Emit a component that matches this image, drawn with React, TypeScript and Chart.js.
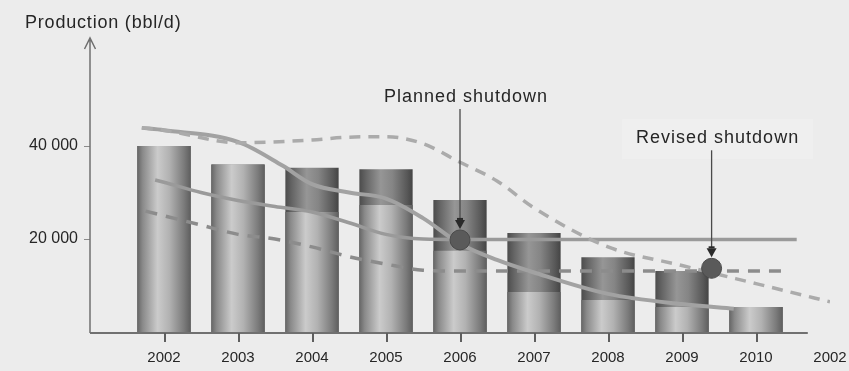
import { useEffect, useRef } from 'react';
import { Chart, registerables } from 'chart.js';

Chart.register(...registerables);

// Year slots along the x axis (slot index = position on the axis)
const YEAR_LABELS = ['2002', '2003', '2004', '2005', '2006', '2007', '2008', '2009', '2010', '2002'];
const Y_TICKS = [20000, 40000];

// Yearly production, bbl/d: full bar height and its lighter lower part
const PRODUCTION_TOTAL = [40000, 36000, 35300, 35000, 28400, 21300, 16100, 13100, 5400];
const PRODUCTION_BASE = [40000, 36000, 25800, 27300, 17500, 8600, 6900, 5400, 5400];

// Profile curves, x in year-slot units, y in bbl/d
const UPPER_SOLID_X = [-0.3, 0, 1, 1.6, 2, 2.5, 3, 3.5, 4, 4.5, 5, 6, 7, 7.7];
const UPPER_SOLID_Y = [43900, 43400, 40900, 35800, 31800, 30000, 28700, 24500, 19000, 15500, 12800, 8200, 6000, 5000];

const UPPER_DASHED_X = [-0.3, 0, 1, 2, 2.5, 3, 3.5, 4, 4.5, 5, 6, 7, 8, 9];
const UPPER_DASHED_Y = [43900, 43400, 40700, 41300, 41900, 42000, 40500, 36500, 32500, 26700, 18300, 14300, 10400, 6500];

const LOWER_SOLID_X = [-0.12, 0, 0.5, 1, 1.5, 2, 2.5, 3, 3.5, 4, 8.55];
const LOWER_SOLID_Y = [32700, 32200, 30000, 28300, 27000, 25800, 23500, 21000, 20000, 19900, 19900];

const LOWER_DASHED_X = [-0.25, 0, 0.5, 1, 1.5, 2, 2.5, 3, 3.5, 4, 8.4];
const LOWER_DASHED_Y = [26000, 25000, 23000, 21000, 20000, 18300, 16200, 14600, 13300, 13100, 13100];

// Shutdown markers
const SHUTDOWN_LABELS = ['Planned shutdown', 'Revised shutdown'];
const SHUTDOWN_X = [4, 7.4];
const SHUTDOWN_Y = [19800, 13700];

// Callout layout: text baseline distance above the marker, and sideways shift
const CALLOUT_RISE = [138, 125];
const CALLOUT_SHIFT = 6;

const BAR_FRACTION = 0.72;
const FONT = '"Liberation Sans", Arial, Helvetica, sans-serif';
const TEXT_COLOR = '#262626';
const AXIS_COLOR = '#707070';

const LIGHT_CYLINDER: [number, string][] = [
  [0, '#666666'],
  [0.1, '#8a8a8a'],
  [0.38, '#cbcbcb'],
  [0.6, '#b2b2b2'],
  [0.88, '#7a7a7a'],
  [1, '#5e5e5e'],
];
const DARK_CYLINDER: [number, string][] = [
  [0, '#4c4c4c'],
  [0.12, '#646464'],
  [0.4, '#969696'],
  [0.62, '#858585'],
  [0.9, '#575757'],
  [1, '#444444'],
];

const pairs = (xs: number[], ys: number[]) => xs.map((x, i) => ({ x, y: ys[i] }));
const spaced = (v: number) => String(v).replace(/\B(?=(\d{3})+(?!\d))/g, ' ');

function cylinder(ctx: any, stops: [number, string][]) {
  const chart = ctx.chart;
  const xs = chart.scales?.x;
  if (!xs || ctx.type !== 'data' || !ctx.raw) return stops[2][1];
  const cx = xs.getPixelForValue(ctx.raw.x);
  const half = ((xs.getPixelForValue(1) - xs.getPixelForValue(0)) * BAR_FRACTION) / 2;
  if (!isFinite(cx) || !isFinite(half)) return stops[2][1];
  const g = chart.ctx.createLinearGradient(cx - half, 0, cx + half, 0);
  stops.forEach(([o, c]) => g.addColorStop(o, c));
  return g;
}

const decorations = {
  id: 'decorations',
  beforeDraw(chart: any) {
    const { ctx, width, height } = chart;
    ctx.save();
    ctx.fillStyle = '#ececec';
    ctx.fillRect(0, 0, width, height);
    ctx.restore();
  },
  afterDraw(chart: any) {
    const { ctx, chartArea, scales } = chart;
    const xs = scales.x;
    const ys = scales.y;
    ctx.save();

    // axes
    ctx.strokeStyle = AXIS_COLOR;
    ctx.lineWidth = 1.5;
    const ax = chartArea.left;
    const ay = chartArea.bottom + 1;
    ctx.beginPath();
    ctx.moveTo(ax, ay);
    ctx.lineTo(ax, chartArea.top - 2);
    ctx.moveTo(ax - 5.5, chartArea.top + 9);
    ctx.lineTo(ax, chartArea.top - 2);
    ctx.lineTo(ax + 5.5, chartArea.top + 9);
    ctx.stroke();
    ctx.lineWidth = 2;
    ctx.beginPath();
    ctx.moveTo(ax, ay);
    ctx.lineTo(xs.getPixelForValue(8.7), ay);
    ctx.stroke();

    // year tick marks under the bars
    ctx.fillStyle = '#5e5e5e';
    PRODUCTION_TOTAL.forEach((_, i) => {
      const px = Math.round(xs.getPixelForValue(i));
      ctx.fillRect(px, ay, 2, 9);
    });

    // axis title
    ctx.fillStyle = TEXT_COLOR;
    ctx.font = `18px ${FONT}`;
    ctx.textAlign = 'left';
    ctx.textBaseline = 'alphabetic';
    (ctx as any).letterSpacing = '0.8px';
    ctx.fillText('Production (bbl/d)', 25, 28);

    // shutdown callouts
    ctx.textAlign = 'center';
    (ctx as any).letterSpacing = '1px';
    SHUTDOWN_LABELS.forEach((label, i) => {
      const mx = xs.getPixelForValue(SHUTDOWN_X[i]);
      const my = ys.getPixelForValue(SHUTDOWN_Y[i]);
      const base = my - CALLOUT_RISE[i];
      const tx = mx + CALLOUT_SHIFT;
      if (i === 1) {
        const w = ctx.measureText(label).width;
        ctx.fillStyle = 'rgba(245,245,245,0.45)';
        ctx.fillRect(tx - w / 2 - 14, base - 24, w + 28, 40);
      }
      ctx.fillStyle = TEXT_COLOR;
      ctx.fillText(label, tx, base);

      ctx.strokeStyle = '#4a4a4a';
      ctx.lineWidth = 1.3;
      ctx.beginPath();
      ctx.moveTo(mx, base + 7);
      ctx.lineTo(mx, my - 20);
      ctx.stroke();
      ctx.fillStyle = '#2a2a2a';
      ctx.fillRect(mx - 3, my - 22, 6, 2);
      ctx.beginPath();
      ctx.moveTo(mx - 5, my - 20);
      ctx.lineTo(mx + 5, my - 20);
      ctx.lineTo(mx, my - 11);
      ctx.closePath();
      ctx.fill();
    });
    ctx.restore();
  },
};

export default function App() {
  const canvasRef = useRef<HTMLCanvasElement | null>(null);

  useEffect(() => {
    const canvas = canvasRef.current;
    if (!canvas) return;

    const curve = (xs: number[], ys: number[], color: string, width: number, dash: number[]) => ({
      type: 'line' as const,
      data: pairs(xs, ys),
      borderColor: color,
      borderWidth: width,
      borderDash: dash,
      pointRadius: 0,
      fill: false,
      cubicInterpolationMode: 'monotone' as const,
      order: 1,
    });

    const chart = new Chart(canvas, {
      type: 'bar',
      data: {
        datasets: [
          {
            type: 'line',
            data: pairs(SHUTDOWN_X, SHUTDOWN_Y),
            showLine: false,
            pointRadius: 10,
            pointBackgroundColor: '#5a5a5a',
            pointBorderColor: '#4a4a4a',
            pointBorderWidth: 1,
            order: 0,
          },
          curve(UPPER_DASHED_X, UPPER_DASHED_Y, '#ababab', 3.5, [11, 8]),
          curve(UPPER_SOLID_X, UPPER_SOLID_Y, '#a2a2a2', 4, []),
          curve(LOWER_SOLID_X, LOWER_SOLID_Y, '#9a9a9a', 3.5, []),
          curve(LOWER_DASHED_X, LOWER_DASHED_Y, '#8c8c8c', 3.5, [12, 9]),
          {
            type: 'bar',
            data: pairs(PRODUCTION_BASE.map((_, i) => i), PRODUCTION_BASE),
            backgroundColor: (c: any) => cylinder(c, LIGHT_CYLINDER),
            grouped: false,
            categoryPercentage: BAR_FRACTION,
            barPercentage: 1,
            borderWidth: 0,
            order: 2,
          },
          {
            type: 'bar',
            data: pairs(PRODUCTION_TOTAL.map((_, i) => i), PRODUCTION_TOTAL),
            backgroundColor: (c: any) => cylinder(c, DARK_CYLINDER),
            grouped: false,
            categoryPercentage: BAR_FRACTION,
            barPercentage: 1,
            borderWidth: 0,
            order: 3,
          },
        ] as any,
      },
      options: {
        animation: false,
        responsive: false,
        maintainAspectRatio: false,
        layout: { padding: { top: 40, right: 19, left: 0, bottom: 0 } },
        plugins: {
          legend: { display: false },
          tooltip: { enabled: false },
        },
        scales: {
          x: {
            type: 'linear',
            min: -1,
            max: 9,
            offset: false,
            border: { display: false },
            grid: { display: false, drawTicks: true, tickLength: 8 },
            afterBuildTicks: (scale: any) => {
              scale.ticks = YEAR_LABELS.map((_, i) => ({ value: i }));
            },
            afterFit: (scale: any) => {
              scale.height = 39;
              scale.paddingLeft = 0;
              scale.paddingRight = 0;
            },
            ticks: {
              autoSkip: false,
              maxRotation: 0,
              padding: 9,
              color: TEXT_COLOR,
              font: { family: FONT, size: 15 },
              callback: (v: any) => YEAR_LABELS[Math.round(Number(v))] ?? '',
            },
          },
          y: {
            type: 'linear',
            min: 0,
            max: 62800,
            border: { display: false },
            grid: {
              display: true,
              drawOnChartArea: false,
              drawTicks: true,
              tickLength: 6,
              lineWidth: 1,
              color: '#8a8a8a',
            },
            afterBuildTicks: (scale: any) => {
              scale.ticks = Y_TICKS.map((v) => ({ value: v }));
            },
            afterFit: (scale: any) => {
              scale.width = 90;
            },
            ticks: {
              padding: 6,
              color: TEXT_COLOR,
              font: { family: FONT, size: 16 },
              callback: (v: any) => spaced(Number(v)),
            },
          },
        },
      },
      plugins: [decorations],
    });

    return () => chart.destroy();
  }, []);

  return (
    <div style={{ position: 'fixed', left: 0, top: 0, width: 849, height: 371 }}>
      <canvas ref={canvasRef} width={849} height={371} style={{ display: 'block' }} />
    </div>
  );
}
